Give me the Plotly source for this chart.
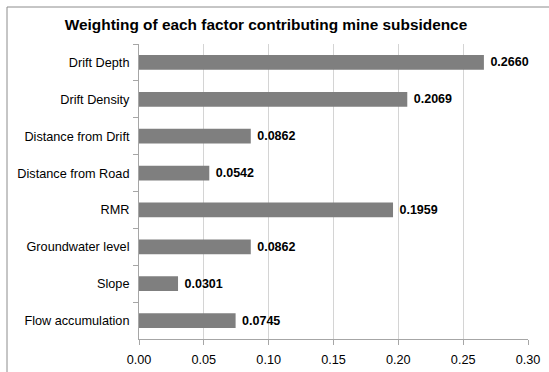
import plotly.graph_objects as go

factors = [
    "Drift Depth",
    "Drift Density",
    "Distance from Drift",
    "Distance from Road",
    "RMR",
    "Groundwater level",
    "Slope",
    "Flow accumulation",
]
weights = [0.2660, 0.2069, 0.0862, 0.0542, 0.1959, 0.0862, 0.0301, 0.0745]
x_ticks = [0.00, 0.05, 0.10, 0.15, 0.20, 0.25, 0.30]

W, H = 549, 372
fig = go.Figure()
fig.add_trace(go.Bar(
    x=weights,
    y=factors,
    orientation="h",
    marker=dict(color="#7f7f7f", line=dict(width=0)),
    width=0.4,
    text=[f" {v:.4f}" for v in weights],
    textposition="outside",
    textfont=dict(family="Liberation Sans, Arial", size=12.5, color="#000000"),
    texttemplate="<b>%{text}</b>",
    cliponaxis=False,
))

fig.update_layout(
    width=W, height=H,
    margin=dict(l=139, r=21, t=44, b=33, autoexpand=False),
    paper_bgcolor="white",
    plot_bgcolor="white",
    showlegend=False,
    font=dict(family="Liberation Sans, Arial", size=12.7, color="#000000"),
    title=dict(
        text="<b>Weighting of each factor contributing mine subsidence</b>",
        x=266 / W, xref="container", xanchor="center",
        y=1 - 25 / H, yref="container", yanchor="middle",
        font=dict(family="Liberation Sans, Arial", size=15.4, color="#000000"),
    ),
    xaxis=dict(
        range=[0, 0.30],
        tickvals=x_ticks,
        ticktext=[f"{t:.2f}" for t in x_ticks],
        showgrid=True, gridcolor="#d4d4d4", gridwidth=1,
        zeroline=False,
        showline=True, linecolor="#a6a6a6", linewidth=1,
        ticks="outside", ticklen=5, tickcolor="#a6a6a6",
        ticklabelstandoff=4,
        tickfont=dict(size=12.7),
        automargin=False,
    ),
    yaxis=dict(
        categoryorder="array",
        categoryarray=factors,
        autorange="reversed",
        showgrid=False,
        showline=True, linecolor="#a6a6a6", linewidth=1,
        ticks="outside", ticklen=5, tickcolor="#a6a6a6",
        tickson="boundaries",
        ticklabelstandoff=6,
        tickfont=dict(size=12.7),
        automargin=False,
    ),
    bargap=0.6,
)

# Chart-area frame
fig.add_shape(
    type="rect", xref="paper", yref="paper",
    x0=-(139 - 7) / (W - 139 - 21), x1=1 + 30 / (W - 139 - 21),
    y0=-60 / (H - 44 - 33), y1=1 + (44 - 7) / (H - 44 - 33),
    line=dict(color="#8c8c8c", width=1),
    fillcolor="rgba(0,0,0,0)",
    layer="below",
)

fig.write_html("out.html")
